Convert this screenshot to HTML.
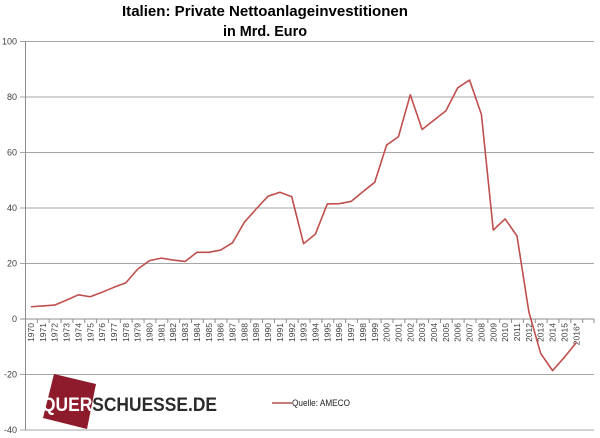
<!DOCTYPE html>
<html>
<head>
<meta charset="utf-8">
<style>
html,body{margin:0;padding:0;background:#fff;}
svg{display:block;}
</style>
</head>
<body>
<svg width="600" height="438" viewBox="0 0 600 438" xmlns="http://www.w3.org/2000/svg">
<rect x="0" y="0" width="600" height="438" fill="#fff"/>
<!-- Title -->
<text x="265" y="16" text-anchor="middle" font-family="Liberation Sans, Arial, sans-serif" font-weight="bold" font-size="15" fill="#000" textLength="286" lengthAdjust="spacingAndGlyphs">Italien: Private Nettoanlageinvestitionen</text>
<text x="265" y="36" text-anchor="middle" font-family="Liberation Sans, Arial, sans-serif" font-weight="bold" font-size="15" fill="#000" textLength="84" lengthAdjust="spacingAndGlyphs">in Mrd. Euro</text>

<!-- gridlines -->
<g stroke="#a6a6a6" stroke-width="1">
<line x1="20" y1="41.5" x2="594" y2="41.5"/>
<line x1="20" y1="97" x2="594" y2="97"/>
<line x1="20" y1="152.5" x2="594" y2="152.5"/>
<line x1="20" y1="208" x2="594" y2="208"/>
<line x1="20" y1="263.5" x2="594" y2="263.5"/>
<line x1="20" y1="374.5" x2="594" y2="374.5"/>
<line x1="20" y1="430" x2="594" y2="430"/>
</g>
<!-- vertical axis -->
<line x1="25.5" y1="41" x2="25.5" y2="430" stroke="#8c8c8c" stroke-width="1"/>
<!-- zero axis -->
<line x1="20" y1="319" x2="594" y2="319" stroke="#8c8c8c" stroke-width="1"/>
<g stroke="#8c8c8c" stroke-width="1" id="ticks">
<line x1="37.35" y1="319" x2="37.35" y2="323"/><line x1="49.21" y1="319" x2="49.21" y2="323"/><line x1="61.06" y1="319" x2="61.06" y2="323"/><line x1="72.92" y1="319" x2="72.92" y2="323"/><line x1="84.77" y1="319" x2="84.77" y2="323"/><line x1="96.62" y1="319" x2="96.62" y2="323"/><line x1="108.48" y1="319" x2="108.48" y2="323"/><line x1="120.33" y1="319" x2="120.33" y2="323"/><line x1="132.19" y1="319" x2="132.19" y2="323"/><line x1="144.04" y1="319" x2="144.04" y2="323"/><line x1="155.90" y1="319" x2="155.90" y2="323"/><line x1="167.75" y1="319" x2="167.75" y2="323"/><line x1="179.61" y1="319" x2="179.61" y2="323"/><line x1="191.46" y1="319" x2="191.46" y2="323"/><line x1="203.32" y1="319" x2="203.32" y2="323"/><line x1="215.17" y1="319" x2="215.17" y2="323"/><line x1="227.03" y1="319" x2="227.03" y2="323"/><line x1="238.88" y1="319" x2="238.88" y2="323"/><line x1="250.74" y1="319" x2="250.74" y2="323"/><line x1="262.59" y1="319" x2="262.59" y2="323"/><line x1="274.45" y1="319" x2="274.45" y2="323"/><line x1="286.30" y1="319" x2="286.30" y2="323"/><line x1="298.16" y1="319" x2="298.16" y2="323"/><line x1="310.01" y1="319" x2="310.01" y2="323"/><line x1="321.87" y1="319" x2="321.87" y2="323"/><line x1="333.72" y1="319" x2="333.72" y2="323"/><line x1="345.58" y1="319" x2="345.58" y2="323"/><line x1="357.43" y1="319" x2="357.43" y2="323"/><line x1="369.29" y1="319" x2="369.29" y2="323"/><line x1="381.14" y1="319" x2="381.14" y2="323"/><line x1="393.00" y1="319" x2="393.00" y2="323"/><line x1="404.85" y1="319" x2="404.85" y2="323"/><line x1="416.71" y1="319" x2="416.71" y2="323"/><line x1="428.56" y1="319" x2="428.56" y2="323"/><line x1="440.42" y1="319" x2="440.42" y2="323"/><line x1="452.27" y1="319" x2="452.27" y2="323"/><line x1="464.13" y1="319" x2="464.13" y2="323"/><line x1="475.98" y1="319" x2="475.98" y2="323"/><line x1="487.84" y1="319" x2="487.84" y2="323"/><line x1="499.69" y1="319" x2="499.69" y2="323"/><line x1="511.55" y1="319" x2="511.55" y2="323"/><line x1="523.40" y1="319" x2="523.40" y2="323"/><line x1="535.26" y1="319" x2="535.26" y2="323"/><line x1="547.11" y1="319" x2="547.11" y2="323"/><line x1="558.97" y1="319" x2="558.97" y2="323"/><line x1="570.82" y1="319" x2="570.82" y2="323"/><line x1="582.68" y1="319" x2="582.68" y2="323"/><line x1="594" y1="319" x2="594" y2="323"/>
</g>

<!-- y labels -->
<g font-family="Liberation Sans, Arial, sans-serif" font-size="9" fill="#404040" text-anchor="end">
<text x="17" y="44.5">100</text>
<text x="17" y="100">80</text>
<text x="17" y="155.5">60</text>
<text x="17" y="211">40</text>
<text x="17" y="266.5">20</text>
<text x="17" y="322">0</text>
<text x="17" y="377.5">-20</text>
<text x="17" y="433">-40</text>
</g>

<!-- x labels -->
<g font-family="Liberation Sans, Arial, sans-serif" font-size="8.5" fill="#404040" text-anchor="end">
<text transform="translate(34.0,323) rotate(-90)">1970</text>
<text transform="translate(45.9,323) rotate(-90)">1971</text>
<text transform="translate(57.7,323) rotate(-90)">1972</text>
<text transform="translate(69.6,323) rotate(-90)">1973</text>
<text transform="translate(81.4,323) rotate(-90)">1974</text>
<text transform="translate(93.3,323) rotate(-90)">1975</text>
<text transform="translate(105.1,323) rotate(-90)">1976</text>
<text transform="translate(117.0,323) rotate(-90)">1977</text>
<text transform="translate(128.8,323) rotate(-90)">1978</text>
<text transform="translate(140.7,323) rotate(-90)">1979</text>
<text transform="translate(152.5,323) rotate(-90)">1980</text>
<text transform="translate(164.4,323) rotate(-90)">1981</text>
<text transform="translate(176.2,323) rotate(-90)">1982</text>
<text transform="translate(188.1,323) rotate(-90)">1983</text>
<text transform="translate(199.9,323) rotate(-90)">1984</text>
<text transform="translate(211.8,323) rotate(-90)">1985</text>
<text transform="translate(223.7,323) rotate(-90)">1986</text>
<text transform="translate(235.5,323) rotate(-90)">1987</text>
<text transform="translate(247.4,323) rotate(-90)">1988</text>
<text transform="translate(259.2,323) rotate(-90)">1989</text>
<text transform="translate(271.1,323) rotate(-90)">1990</text>
<text transform="translate(282.9,323) rotate(-90)">1991</text>
<text transform="translate(294.8,323) rotate(-90)">1992</text>
<text transform="translate(306.6,323) rotate(-90)">1993</text>
<text transform="translate(318.5,323) rotate(-90)">1994</text>
<text transform="translate(330.3,323) rotate(-90)">1995</text>
<text transform="translate(342.2,323) rotate(-90)">1996</text>
<text transform="translate(354.0,323) rotate(-90)">1997</text>
<text transform="translate(365.9,323) rotate(-90)">1998</text>
<text transform="translate(377.8,323) rotate(-90)">1999</text>
<text transform="translate(389.6,323) rotate(-90)">2000</text>
<text transform="translate(401.5,323) rotate(-90)">2001</text>
<text transform="translate(413.3,323) rotate(-90)">2002</text>
<text transform="translate(425.2,323) rotate(-90)">2003</text>
<text transform="translate(437.0,323) rotate(-90)">2004</text>
<text transform="translate(448.9,323) rotate(-90)">2005</text>
<text transform="translate(460.7,323) rotate(-90)">2006</text>
<text transform="translate(472.6,323) rotate(-90)">2007</text>
<text transform="translate(484.4,323) rotate(-90)">2008</text>
<text transform="translate(496.3,323) rotate(-90)">2009</text>
<text transform="translate(508.1,323) rotate(-90)">2010</text>
<text transform="translate(520.0,323) rotate(-90)">2011</text>
<text transform="translate(531.9,323) rotate(-90)">2012</text>
<text transform="translate(543.7,323) rotate(-90)">2013</text>
<text transform="translate(555.6,323) rotate(-90)">2014</text>
<text transform="translate(567.4,323) rotate(-90)">2015</text>
<text transform="translate(579.3,323) rotate(-90)">2016*</text>
</g>

<!-- logo -->
<polygon points="54,374 96,384 87,429 43,418" fill="#8e1b2c"/>
<text x="42" y="411" font-family="Liberation Sans, Arial, sans-serif" font-weight="bold" font-size="19" textLength="175" lengthAdjust="spacingAndGlyphs"><tspan fill="#ffffff">QUER</tspan><tspan fill="#2b2b2b">SCHUESSE.DE</tspan></text>

<!-- legend -->
<line x1="272" y1="403" x2="292" y2="403" stroke="#b5504d" stroke-width="1.5"/>
<text x="292" y="406" font-family="Liberation Sans, Arial, sans-serif" font-size="9" fill="#222" textLength="58" lengthAdjust="spacingAndGlyphs">Quelle: AMECO</text>

<!-- series -->
<polyline fill="none" stroke="#bf4f4c" stroke-width="1.6" stroke-linejoin="round" points="30.93,306.75 42.78,305.92 54.64,305.09 66.49,300.09 78.35,294.81 90.20,296.75 102.06,292.31 113.91,287.31 125.77,282.86 137.62,269.25 149.48,260.64 161.33,258.14 173.19,260.08 185.04,261.47 196.90,252.31 208.75,252.31 220.61,250.08 232.46,242.86 244.32,222.30 256.17,208.97 268.03,196.19 279.88,192.30 291.74,196.75 303.59,243.69 315.45,233.97 327.30,203.97 339.16,203.69 351.01,201.47 362.87,191.75 374.72,182.30 386.58,145.07 398.43,136.74 410.29,94.79 422.14,129.52 434.00,120.07 445.85,110.91 457.71,87.85 469.56,80.07 481.42,114.52 493.27,230.08 505.13,218.97 516.98,235.92 528.84,311.75 540.69,353.43 552.55,370.62 564.40,357.31 576.26,342.59"/>
</svg>
</body>
</html>
